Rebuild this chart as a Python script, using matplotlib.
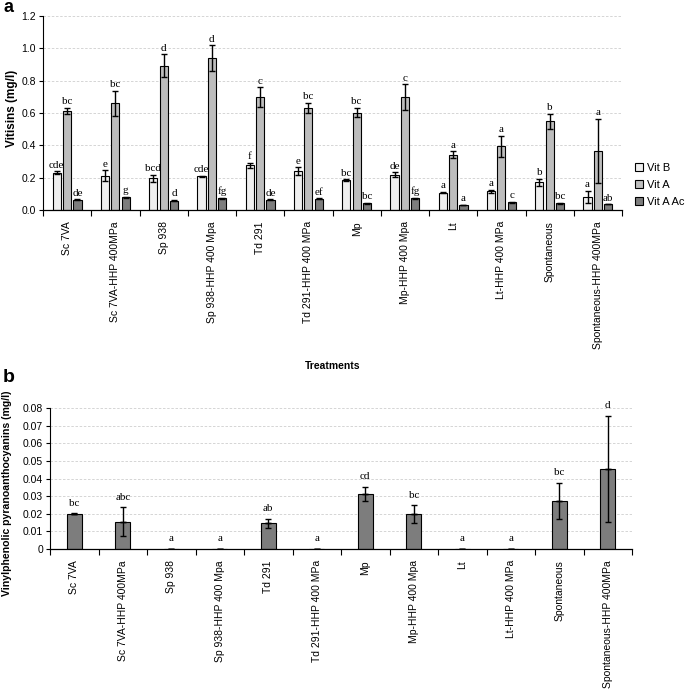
import numpy as np
import matplotlib.pyplot as plt

treatments = ["Sc 7VA", "Sc 7VA-HHP 400MPa", "Sp 938", "Sp 938-HHP 400 Mpa",
              "Td 291", "Td 291-HHP 400 MPa", "Mp", "Mp-HHP 400 Mpa", "Lt",
              "Lt-HHP 400 MPa", "Spontaneous", "Spontaneous-HHP 400MPa"]

# panel a: vitisins (mg/l)
vit_b = [0.231, 0.212, 0.196, 0.208, 0.276, 0.239, 0.186, 0.219, 0.107, 0.115, 0.171, 0.082]
vit_b_err = [0.008, 0.034, 0.02, 0.005, 0.015, 0.025, 0.004, 0.015, 0.004, 0.01, 0.02, 0.038]
vit_a = [0.614, 0.66, 0.893, 0.938, 0.697, 0.633, 0.602, 0.697, 0.342, 0.394, 0.548, 0.367]
vit_a_err = [0.02, 0.078, 0.07, 0.08, 0.062, 0.03, 0.029, 0.08, 0.02, 0.064, 0.048, 0.198]
vit_a_ac = [0.062, 0.078, 0.058, 0.074, 0.062, 0.07, 0.043, 0.074, 0.031, 0.047, 0.041, 0.035]
vit_a_ac_err = [0.003, 0.003, 0.003, 0.003, 0.003, 0.003, 0.003, 0.003, 0.002, 0.003, 0.003, 0.0]
let_b = ["cde", "e", "bcd", "cde", "f", "e", "bc", "de", "a", "a", "b", "a"]
let_a = ["bc", "bc", "d", "d", "c", "bc", "bc", "c", "a", "a", "b", "a"]
let_ac = ["de", "g", "d", "fg", "de", "ef", "bc", "fg", "a", "c", "bc", "ab"]

# panel b: vinylphenolic pyranoanthocyanins (mg/l)
vp = [0.0200, 0.0156, 0, 0, 0.0145, 0, 0.0314, 0.0198, 0, 0, 0.0273, 0.0454]
vp_err = [0.0003, 0.008, 0, 0, 0.0025, 0, 0.004, 0.005, 0, 0, 0.0103, 0.0303]
let_vp = ["bc", "abc", "a", "a", "ab", "a", "cd", "bc", "a", "a", "bc", "d"]

plt.rcParams['font.family'] = ['Liberation Sans', 'DejaVu Sans']
plt.rcParams['font.size'] = 7.5

W, H = 685, 697
fig = plt.figure(figsize=(W / 100, H / 100), dpi=100)


def px_axes(l, t, r, b):
    return fig.add_axes([l / W, 1 - b / H, (r - l) / W, (b - t) / H])


def style_axes(ax, ymax, ystep):
    x = np.arange(len(treatments))
    ax.set_xlim(-0.5, len(treatments) - 0.5)
    ax.set_ylim(0, ymax)
    ax.set_yticks(np.arange(0, ymax + ystep / 2, ystep))
    ax.set_xticks(np.arange(-0.5, len(treatments)))
    ax.set_xticklabels([])
    ax.set_xticks(x, minor=True)
    ax.set_xticklabels(treatments, minor=True, rotation=90, va='top')
    ax.tick_params(axis='x', which='minor', length=0, pad=8)
    ax.tick_params(axis='x', which='major', length=4, direction='out', width=0.8)
    ax.tick_params(axis='y', length=3, direction='out', width=0.8, pad=2)
    ax.spines['top'].set_visible(False)
    ax.spines['right'].set_visible(False)
    ax.spines['left'].set_linewidth(0.8)
    ax.spines['bottom'].set_linewidth(0.9)
    ax.yaxis.grid(True, linestyle=(0, (3, 2)), color='#cfcfcf', linewidth=0.6)
    ax.set_axisbelow(True)
    for g in ax.get_ygridlines()[:1]:
        g.set_visible(False)


def letters(ax, xs, tops, labs, off):
    for xx, tt, ll in zip(xs, tops, labs):
        ax.annotate(ll, (xx, tt), xytext=(0, off), textcoords='offset points',
                    ha='center', va='bottom', family='Liberation Serif', fontsize=8)


# ---- panel a
ax1 = px_axes(43, 16, 622, 210)
style_axes(ax1, 1.2, 0.2)
x = np.arange(len(treatments))
w = 0.17
d = 0.215
ekw = dict(ecolor='black', elinewidth=1, capsize=2.2, capthick=1)
series = [(vit_b, vit_b_err, '#efefef', 'Vit B', let_b, -d),
          (vit_a, vit_a_err, '#bdbdbd', 'Vit A', let_a, 0),
          (vit_a_ac, vit_a_ac_err, '#7d7d7d', 'Vit A Ac', let_ac, d)]
handles = []
for vals, errs, col, lab, lets, off in series:
    bars = ax1.bar(x + off, vals, w, yerr=errs, color=col, edgecolor='black',
                   linewidth=0.8, label=lab, error_kw=ekw)
    handles.append(bars)
    letters(ax1, x + off, np.array(vals) + np.array(errs), lets, 1.2)
ax1.set_xlabel("Treatments", fontweight='bold', fontsize=7.5, labelpad=9)

fig.legend(handles, ["Vit B", "Vit A", "Vit A Ac"], loc='center left',
           bbox_to_anchor=(631 / W, 1 - 185 / H), frameon=False, fontsize=8,
           handlelength=0.7, handleheight=0.7, handletextpad=0.3,
           labelspacing=0.65, borderaxespad=0)
fig.text(12 / W, 1 - 108 / H, "Vitisins (mg/l)", rotation=90, ha='center',
         va='center', fontweight='bold', fontsize=8.5)
fig.text(3 / W, 1 - 8 / H, "a", fontweight='bold', fontsize=13, va='center')

# ---- panel b
ax2 = px_axes(50, 408, 632, 549)
style_axes(ax2, 0.08, 0.01)
ax2.yaxis.set_major_formatter(plt.FuncFormatter(lambda v, p: "0" if v == 0 else f"{v:.2f}"))
ax2.bar(x, vp, 0.31, yerr=[np.zeros(len(vp)), vp_err], color='#7d7d7d',
        edgecolor='black', linewidth=0.8, error_kw=ekw)
ax2.errorbar(x, vp, yerr=[vp_err, np.zeros(len(vp))], fmt='none', **ekw)
letters(ax2, x, np.array(vp) + np.array(vp_err), let_vp, 4)
fig.text(7 / W, 1 - 493 / H, "Vinylphenolic pyranoanthocyanins (mg/l)", rotation=90,
         ha='center', va='center', fontweight='bold', fontsize=7.6)
fig.text(3 / W, 1 - 377 / H, "b", fontweight='bold', fontsize=14, va='center')

fig.savefig("out.png", dpi=100)
